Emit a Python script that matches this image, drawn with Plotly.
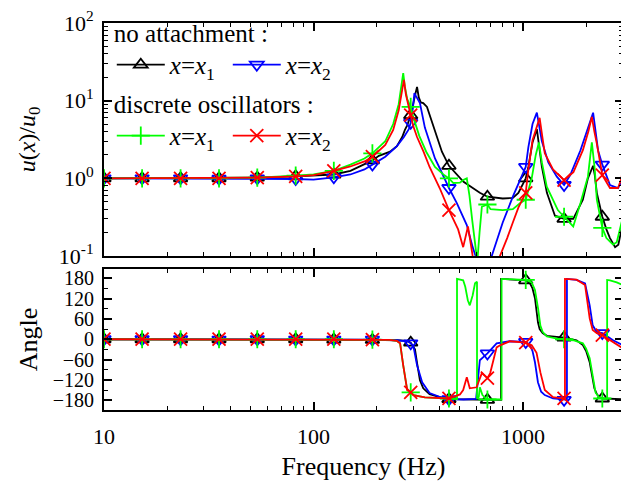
import plotly.graph_objects as go

# ---------------- data ----------------
MARKER_F = [10, 15.2, 23.2, 35.4, 53.9, 82.2, 125, 191, 291, 443, 676, 1030, 1570, 2390]

# |u(x)/u0|, no attachment, x = x1
BLACK_MAG = [(10, 1.0), (15.2, 1.0), (23.2, 1.0), (35.4, 1.0), (53.9, 1.02), (82.2, 1.06),
             (100, 1.08), (125, 1.12), (150, 1.25), (175, 1.5), (191, 1.7), (205, 1.95),
             (219, 2.1), (232, 2.2), (250, 2.6), (265, 3.4), (273, 4.2), (280, 4.8),
             (291, 6.5), (300, 9.0), (308, 13), (312, 15), (318, 11), (325, 9.5),
             (334, 9.3), (348, 8.3), (362, 6.0), (388, 3.4), (410, 2.2), (443, 1.45),
             (520, 0.9), (622, 0.65), (676, 0.58), (800, 0.55), (894, 0.56), (950, 0.65),
             (1000, 0.87), (1030, 1.0), (1060, 1.4), (1110, 2.9), (1164, 4.3), (1195, 2.5),
             (1230, 1.4), (1300, 0.65), (1420, 0.33), (1570, 0.3), (1736, 0.3), (1930, 0.53),
             (2040, 1.0), (2160, 1.45), (2200, 1.1), (2250, 0.65), (2390, 0.32), (2500, 0.22),
             (2600, 0.17), (2750, 0.13), (2850, 0.14), (2950, 0.22), (3000, 0.28)]

# |u(x)/u0|, no attachment, x = x2
BLUE_MAG = [(10, 1.0), (15.2, 1.0), (23.2, 1.0), (35.4, 0.99), (53.9, 1.0), (82.2, 0.98),
            (100, 0.96), (125, 1.03), (150, 1.12), (175, 1.3), (191, 1.5), (220, 1.9),
            (250, 2.6), (270, 3.4), (285, 4.3), (291, 5.2), (298, 8.0), (303, 12.5),
            (308, 11.5), (315, 10.5), (322, 9.3), (340, 4.5), (358, 2.9), (380, 1.8),
            (404, 1.28), (443, 0.75), (483, 0.48), (539, 0.25), (575, 0.13), (610, 0.08),
            (650, 0.06), (676, 0.07), (700, 0.09), (750, 0.16), (800, 0.27), (894, 0.58),
            (1000, 1.2), (1030, 1.4), (1060, 2.5), (1110, 5.0), (1164, 7.0), (1195, 4.5),
            (1230, 3.0), (1320, 1.6), (1450, 1.05), (1570, 0.82), (1680, 1.1), (1880, 2.3),
            (2040, 4.6), (2160, 7.0), (2220, 4.0), (2280, 2.3), (2390, 1.5), (2600, 0.82),
            (2840, 0.75), (2950, 0.9), (3000, 1.05)]

# |u(x)/u0|, discrete oscillators, x = x1
GREEN_MAG = [(10, 1.0), (15.2, 1.0), (23.2, 1.0), (35.4, 1.0), (53.9, 1.02), (82.2, 1.08),
             (100, 1.12), (125, 1.25), (150, 1.5), (175, 1.8), (191, 2.1), (220, 3.0),
             (240, 5.0), (255, 9.0), (262, 14), (268, 22.7), (273, 15), (280, 10.5),
             (291, 8.3), (300, 6.0), (320, 3.5), (345, 2.2), (380, 1.4), (420, 1.1),
             (443, 1.0), (465, 0.87), (500, 0.88), (518, 0.95), (539, 1.0), (555, 0.6),
             (572, 0.29), (596, 0.11), (605, 0.085), (620, 0.2), (636, 0.43), (676, 0.46),
             (700, 0.4), (800, 0.39), (894, 0.4), (970, 0.48), (1030, 0.53), (1100, 1.0),
             (1150, 2.0), (1190, 2.9), (1230, 1.6), (1298, 0.78), (1466, 0.39), (1570, 0.32),
             (1736, 0.24), (1880, 0.48), (2040, 1.05), (2130, 2.9), (2200, 1.3), (2250, 0.53),
             (2390, 0.23), (2500, 0.17), (2690, 0.14), (2800, 0.15), (2950, 0.26), (3000, 0.32)]

# |u(x)/u0|, discrete oscillators, x = x2
RED_MAG = [(10, 1.0), (15.2, 1.0), (23.2, 1.0), (35.4, 1.0), (53.9, 1.02), (82.2, 1.06),
           (100, 1.1), (125, 1.25), (150, 1.42), (175, 1.65), (191, 1.9), (220, 2.7),
           (240, 4.2), (255, 7.5), (263, 12), (270, 18.5), (276, 12), (283, 8.5),
           (291, 6.5), (300, 4.6), (312, 3.4), (335, 2.2), (358, 1.4), (400, 0.75),
           (443, 0.39), (490, 0.22), (518, 0.13), (546, 0.24), (560, 0.16), (575, 0.1),
           (620, 0.06), (676, 0.05), (700, 0.05), (777, 0.1), (840, 0.17), (894, 0.27),
           (950, 0.42), (1030, 0.65), (1060, 1.3), (1110, 3.1), (1200, 6.0), (1235, 3.5),
           (1270, 2.1), (1390, 1.3), (1570, 0.95), (1740, 1.2), (1930, 2.3), (2050, 4.0),
           (2130, 6.2), (2190, 4.0), (2250, 2.8), (2390, 1.1), (2600, 0.75), (2840, 0.75),
           (2950, 1.0), (3000, 1.4)]

# phase angle (deg)
BLACK_ANG = [(10, 0), (15.2, 0), (23.2, 0), (35.4, 0), (53.9, 0), (82.2, 0), (125, -1),
             (191, -2), (250, -3), (280, -5), (291, -10), (305, -30), (312, -70),
             (322, -121), (334, -145), (358, -162), (420, -175), (443, -177), (600, -178),
             (676, -179), (785, -179), (785, 178), (900, 176), (1030, 174), (1079, 165),
             (1110, 150), (1140, 121), (1160, 85), (1178, 50), (1200, 30), (1240, 18),
             (1300, 10), (1450, 6), (1570, 5), (1800, -3), (1930, -17), (2000, -35),
             (2080, -68), (2140, -110), (2190, -145), (2250, -162), (2310, -171),
             (2390, -175), (3000, -177)]

BLUE_ANG = [(10, 0), (15.2, 0), (23.2, 0), (35.4, -1), (53.9, 0), (82.2, -1), (100, -2),
            (125, -1), (191, -1), (250, -3), (280, -6), (291, -12), (300, -22), (312, -77),
            (330, -127), (358, -159), (420, -175), (443, -177), (520, -178), (597, -176),
            (622, -62), (676, -42), (710, -27), (748, -12), (864, -6), (1030, -8),
            (1079, -18), (1110, -35), (1140, -68), (1178, -127), (1220, -155), (1270, -165),
            (1390, -175), (1570, -179), (1620, -179), (1620, 178), (1800, 175), (1977, 165),
            (2020, 135), (2080, 100), (2150, 41), (2250, 21), (2390, 18), (2690, -3),
            (3000, -18)]

GREEN_ANG = [(10, 0), (15.2, 0), (23.2, 0), (35.4, 0), (53.9, 0), (82.2, 0), (125, 0),
             (191, -1), (230, -2), (250, -5), (259, -12), (268, -77), (280, -150),
             (291, -157), (300, -165), (340, -172), (443, -175), (484, -177), (484, 178),
             (518, 174), (530, 155), (545, 115), (557, 100), (575, 130), (590, 165),
             (603, 170), (603, -176), (615, -170), (622, -142), (640, -165), (676, -178),
             (790, -178), (790, 178), (900, 176), (1030, 175), (1100, 168), (1140, 145),
             (1180, 90), (1210, 40), (1240, 22), (1300, 8), (1450, 2), (1570, 0),
             (1736, -3), (1930, -12), (2000, -28), (2080, -56), (2150, -110), (2220, -158),
             (2310, -172), (2390, -175), (2520, -176), (2520, 175), (2600, 174),
             (2800, 168), (3000, 160)]

RED_ANG = [(10, 0), (15.2, 0), (23.2, 0), (35.4, 0), (53.9, 0), (82.2, 0), (125, 0),
           (191, -1), (230, -2), (250, -5), (259, -12), (268, -77), (280, -150),
           (291, -157), (300, -165), (340, -172), (443, -175), (500, -163), (518, -150),
           (539, -112), (557, -145), (600, -142), (636, -100), (676, -115), (697, -100),
           (748, -24), (777, -18), (864, -6), (1030, -10), (1100, -18), (1160, -40),
           (1210, -98), (1270, -150), (1390, -171), (1570, -175), (1585, -176), (1585, 178),
           (1800, 176), (1977, 160), (2020, 121), (2080, 62), (2150, 27), (2250, 18),
           (2390, 12), (2690, -9), (3000, -27)]

X_TICKS = [10, 100, 1000]
X_TICKTEXT = ["10", "100", "1000"]
X_MINOR = [20, 30, 40, 50, 60, 70, 80, 90, 200, 300, 400, 500, 600, 700, 800, 900, 2000, 3000]
MAG_TICKS = [0.1, 1, 10, 100]
MAG_TICKTEXT = ["10<sup>-1</sup>", "10<sup>0</sup>", "10<sup>1</sup>", "10<sup>2</sup>"]
MAG_MINOR = [0.2, 0.3, 0.4, 0.5, 0.6, 0.7, 0.8, 0.9, 2, 3, 4, 5, 6, 7, 8, 9,
             20, 30, 40, 50, 60, 70, 80, 90]
ANG_TICKS = [-180, -120, -60, 0, 60, 120, 180]
ANG_MINOR = [-150, -90, -30, 30, 90, 150]

SERIES = [
    # name, legend, colour, symbol, magnitude, angle
    ("<i>x</i>=<i>x</i><sub>1</sub>", "legend", "#000000", "triangle-up-open", BLACK_MAG, BLACK_ANG),
    ("<i>x</i>=<i>x</i><sub>2</sub>", "legend", "#0000FF", "triangle-down-open", BLUE_MAG, BLUE_ANG),
    ("<i>x</i>=<i>x</i><sub>1</sub>", "legend2", "#00FF00", "cross-thin-open", GREEN_MAG, GREEN_ANG),
    ("<i>x</i>=<i>x</i><sub>2</sub>", "legend2", "#FF0000", "x-thin-open", RED_MAG, RED_ANG),
]

FONT = "Liberation Serif"


def split(pts):
    return [p[0] for p in pts], [p[1] for p in pts]


def marker_pts(pts):
    seen = {}
    for f, v in pts:
        if f in MARKER_F and f not in seen:
            seen[f] = v
    fs = [f for f in MARKER_F if f in seen]
    return fs, [seen[f] for f in fs]


fig = go.Figure()
for name, leg, col, sym, mag, ang in SERIES:
    msize = 12 if "triangle" in sym else 13
    mk = dict(symbol=sym, size=msize, color=col, line=dict(color=col, width=1.8))
    for pts, xa, ya in ((mag, "x", "y"), (ang, "x2", "y2")):
        xs, ys = split(pts)
        fig.add_trace(go.Scatter(x=xs, y=ys, mode="lines", xaxis=xa, yaxis=ya,
                                 line=dict(color=col, width=1.8), showlegend=False,
                                 hoverinfo="skip"))
        mx, my = marker_pts(pts)
        fig.add_trace(go.Scatter(x=mx, y=my, mode="markers", xaxis=xa, yaxis=ya,
                                 marker=mk, showlegend=False, hoverinfo="skip"))
    fig.add_trace(go.Scatter(x=[None], y=[None], mode="lines+markers", name=name,
                             legend=leg, line=dict(color=col, width=1.8), marker=mk,
                             xaxis="x", yaxis="y"))

axis_common = dict(showline=True, linecolor="black", linewidth=2, mirror="ticks",
                   ticks="inside", ticklen=8, tickwidth=1.5, tickcolor="black",
                   showgrid=False, zeroline=False, automargin=False,
                   ticklabeloverflow="allow")
minor_common = dict(ticks="inside", ticklen=4, tickwidth=1.2, tickcolor="black", showgrid=False)

# the page places the figure 8 px from the window's top-left corner
fig.update_layout(
    width=629, height=481,
    margin=dict(l=96, r=14, t=15, b=79, autoexpand=False),
    paper_bgcolor="white", plot_bgcolor="white",
    font=dict(family=FONT, color="black", size=20),
    xaxis=dict(type="log", range=[1, 3.4771], domain=[0, 1], anchor="y",
               tickvals=X_TICKS, showticklabels=False,
               minor=dict(tickvals=X_MINOR, **minor_common), **axis_common),
    yaxis=dict(type="log", range=[-1, 2], domain=[0.398, 1], anchor="x",
               tickvals=MAG_TICKS, ticktext=MAG_TICKTEXT, tickfont=dict(size=22),
               ticklabelstandoff=4,
               minor=dict(tickvals=MAG_MINOR, **minor_common),
               title=dict(text="<i>u</i>(<i>x</i>)/<i>u</i><sub>0</sub>",
                          font=dict(size=24), standoff=16),
               **axis_common),
    xaxis2=dict(type="log", range=[1, 3.4771], domain=[0, 1], anchor="y2", matches="x",
                tickvals=X_TICKS, ticktext=X_TICKTEXT, tickfont=dict(size=22),
                ticklabelstandoff=6,
                minor=dict(tickvals=X_MINOR, **minor_common),
                title=dict(text="Frequency (Hz)", font=dict(size=26), standoff=8),
                **axis_common),
    yaxis2=dict(range=[-209, 207], domain=[0, 0.364], anchor="x2",
                tickvals=ANG_TICKS, tickfont=dict(size=20), ticklabelstandoff=4,
                minor=dict(tickvals=ANG_MINOR, **minor_common),
                title=dict(text="Angle", font=dict(size=26), standoff=8),
                **axis_common),
    legend=dict(x=0.015, y=1.035, xanchor="left", yanchor="top", orientation="h",
                bgcolor="rgba(0,0,0,0)", font=dict(size=25),
                title=dict(text="no attachment :", side="top", font=dict(size=25)),
                itemwidth=48, entrywidth=53, entrywidthmode="pixels", tracegroupgap=0),
    legend2=dict(x=0.015, y=0.852, xanchor="left", yanchor="top", orientation="h",
                 bgcolor="rgba(0,0,0,0)", font=dict(size=25),
                 title=dict(text="discrete oscillators :", side="top", font=dict(size=25)),
                 itemwidth=48, entrywidth=53, entrywidthmode="pixels", tracegroupgap=0),
)

fig.write_html("out.html")
